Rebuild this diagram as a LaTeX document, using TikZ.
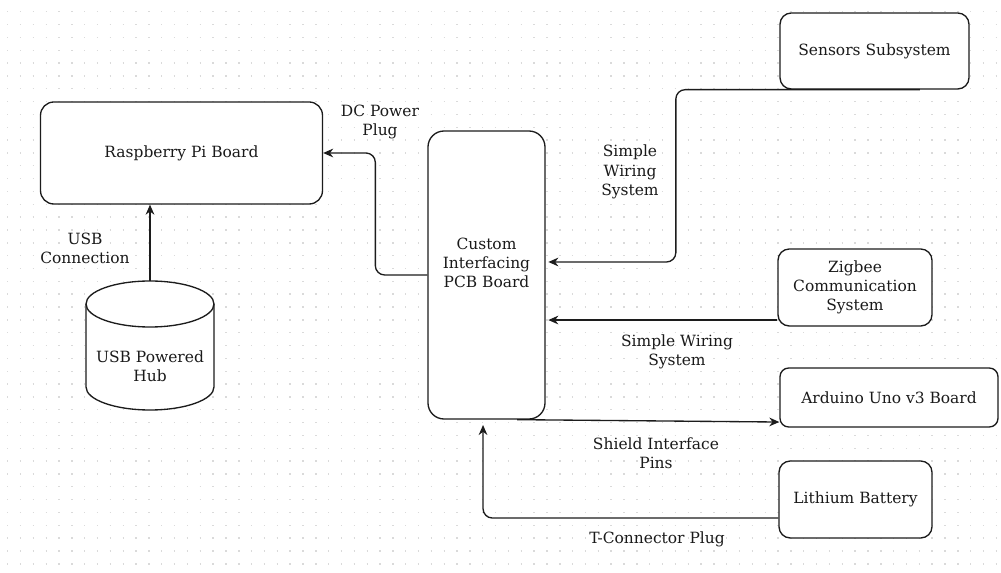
\documentclass[tikz,border=0pt]{standalone}
\usepackage{fontspec}
\setmainfont{DejaVu Serif}
\usetikzlibrary{arrows.meta}
\definecolor{my line}{HTML}{1C1C1C}
\definecolor{my dot}{HTML}{DADADA}
\definecolor{my text}{HTML}{1A1A1A}
\tikzset{
    box/.style={draw=my line, line width=1pt, fill=white, align=center, text=my text, inner sep=0pt},
    conn/.style={draw=my line, line width=1pt, rounded corners=7pt, -{Stealth[length=7.5pt, width=6.5pt, inset=2.4pt]}},
    note/.style={align=center, text=my text, inner sep=0pt}
}
\begin{document}
\begin{tikzpicture}[x=0.75pt, y=-0.75pt, font=\fontsize{11.6}{14.4}\selectfont]
                \useasboundingbox (0, 0) rectangle (1001, 573);
                \fill [white] (0, 0) rectangle (1001, 573);
                \foreach \j in {0,...,43}
                    \draw [my dot, line width=1.05pt, dash pattern=on 1.05pt off 8.58pt] (7, {11.7 + 12.84*\j}) -- (1001, {11.7 + 12.84*\j});
                \node [box, minimum width=211.5pt, minimum height=76.5pt, rounded corners=10pt] (rpi) at (181.5, 153) {Raspberry Pi Board};
                \node [box, minimum width=87.75pt, minimum height=216pt, rounded corners=12pt, label={[note, yshift=9pt]center:Custom\\Interfacing\\PCB Board}] (pcb) at (486.5, 275) {};
                \node [box, minimum width=141.75pt, minimum height=57pt, rounded corners=8.5pt] (sens) at (874.5, 51) {Sensors Subsystem};
                \node [box, minimum width=115.5pt, minimum height=57.75pt, rounded corners=8.5pt] (zig) at (855, 287.5) {Zigbee\\Communication\\System};
                \node [box, minimum width=163.5pt, minimum height=44.25pt, rounded corners=6.5pt] (ard) at (889, 397.5) {Arduino Uno v3 Board};
                \node [box, minimum width=114.75pt, minimum height=57.75pt, rounded corners=8.5pt] (bat) at (855.5, 499.5) {Lithium Battery};
                \draw [my line, line width=1pt, fill=white] (86, 304) -- (86, 387) arc [start angle=180, end angle=0, x radius=64, y radius=23] -- (214, 304);
                \draw [my line, line width=1pt, fill=white] (150, 304) circle [x radius=64, y radius=23];
                \node [note] (hub) at (150, 366) {USB Powered\\Hub};
                \coordinate (hubtop) at (150, 281);
                \coordinate (zigout) at ([yshift=-24.4pt]zig.west);
                \coordinate (batout) at ([yshift=-13.9pt]bat.west);
                \draw [conn] (hubtop) -- (hubtop |- rpi.south);
                \draw [conn] (pcb.west) -- ++(-52, 0) |- (rpi.east);
                \draw [conn, shorten >=2pt] ([xshift=34pt]sens.south) -- ++(-244, 0) |- ([yshift=9.75pt]pcb.east);
                \draw [conn, shorten >=2pt] (zigout) -- (zigout -| pcb.east);
                \draw [conn] ([xshift=22.9pt]pcb.south) -- ([yshift=-18.4pt]ard.west);
                \draw [conn, shorten >=4pt] (batout) -| ([xshift=-2.6pt]pcb.south);
                \node [note] (usblbl) at (85, 248) {USB\\Connection};
                \node [note] (dclbl) at (380, 122) {DC Power\\Plug};
                \node [note] (sensewire) at (630, 172) {Simple\\Wiring\\System};
                \node [note] (zigwire) at (677, 352) {Simple Wiring\\System};
                \node [note] (shieldpins) at (656, 453) {Shield Interface\\Pins};
                \node [note] (tplug) at (657, 539) {T-Connector Plug};
            \end{tikzpicture}
\end{document}
